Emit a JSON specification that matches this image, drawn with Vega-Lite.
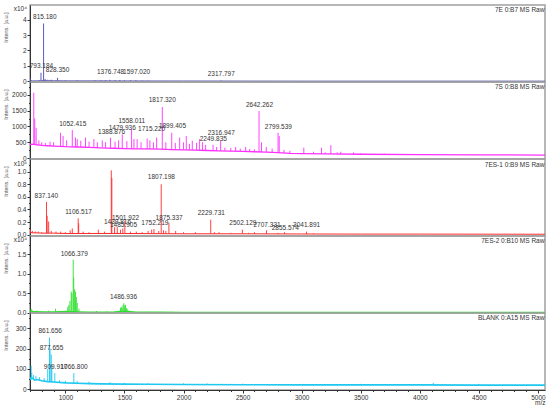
{
  "$schema": "https://vega.github.io/schema/vega-lite/v6.json",
  "padding": {"left": 2, "top": 4, "right": 0, "bottom": 0},
  "spacing": 0,
  "bounds": "flush",
  "config": {
    "font": "Liberation Sans",
    "view": {"stroke": "#a0a0a0", "strokeWidth": 1.5},
    "concat": {"spacing": 0},
    "axis": {
      "grid": false,
      "labelFontSize": 6.5,
      "labelColor": "#333",
      "labelPadding": 1,
      "domainColor": "#333",
      "tickColor": "#333",
      "titleFontSize": 5.5,
      "titleFontWeight": "normal",
      "titleColor": "#555"
    },
    "text": {"fontSize": 6.5, "color": "#333", "baseline": "middle"}
  },
  "datasets": {
    "base": [
      {"s": "A", "mz": 700, "i": 0.12}, {"s": "A", "mz": 705, "i": 0.05}, {"s": "A", "mz": 720, "i": 0.03}, {"s": "A", "mz": 760, "i": 0.03},
      {"s": "A", "mz": 790, "i": 0.05}, {"s": "A", "mz": 810, "i": 0.05}, {"s": "A", "mz": 850, "i": 0.04}, {"s": "A", "mz": 900, "i": 0.04},
      {"s": "A", "mz": 1000, "i": 0.03}, {"s": "A", "mz": 1200, "i": 0.03}, {"s": "A", "mz": 1500, "i": 0.025}, {"s": "A", "mz": 2000, "i": 0.02},
      {"s": "A", "mz": 2500, "i": 0.015}, {"s": "A", "mz": 3000, "i": 0.01}, {"s": "A", "mz": 4000, "i": 0.01}, {"s": "A", "mz": 5060, "i": 0.01},

      {"s": "B", "mz": 700, "i": 430}, {"s": "B", "mz": 720, "i": 440}, {"s": "B", "mz": 760, "i": 420}, {"s": "B", "mz": 800, "i": 400},
      {"s": "B", "mz": 850, "i": 390}, {"s": "B", "mz": 900, "i": 380}, {"s": "B", "mz": 1000, "i": 360}, {"s": "B", "mz": 1100, "i": 350},
      {"s": "B", "mz": 1200, "i": 340}, {"s": "B", "mz": 1300, "i": 320}, {"s": "B", "mz": 1400, "i": 310}, {"s": "B", "mz": 1500, "i": 300},
      {"s": "B", "mz": 1600, "i": 290}, {"s": "B", "mz": 1700, "i": 290}, {"s": "B", "mz": 1800, "i": 280}, {"s": "B", "mz": 1900, "i": 270},
      {"s": "B", "mz": 2000, "i": 260}, {"s": "B", "mz": 2100, "i": 250}, {"s": "B", "mz": 2200, "i": 240}, {"s": "B", "mz": 2300, "i": 230},
      {"s": "B", "mz": 2400, "i": 220}, {"s": "B", "mz": 2500, "i": 210}, {"s": "B", "mz": 2600, "i": 200}, {"s": "B", "mz": 2700, "i": 190},
      {"s": "B", "mz": 2800, "i": 170}, {"s": "B", "mz": 2900, "i": 150}, {"s": "B", "mz": 3000, "i": 140}, {"s": "B", "mz": 3200, "i": 130},
      {"s": "B", "mz": 3500, "i": 120}, {"s": "B", "mz": 4000, "i": 110}, {"s": "B", "mz": 4500, "i": 100}, {"s": "B", "mz": 5060, "i": 95},

      {"s": "C", "mz": 700, "i": 0.04}, {"s": "C", "mz": 720, "i": 0.03}, {"s": "C", "mz": 760, "i": 0.03}, {"s": "C", "mz": 800, "i": 0.025},
      {"s": "C", "mz": 900, "i": 0.025}, {"s": "C", "mz": 1000, "i": 0.02}, {"s": "C", "mz": 1200, "i": 0.02}, {"s": "C", "mz": 1500, "i": 0.02},
      {"s": "C", "mz": 2000, "i": 0.015}, {"s": "C", "mz": 2500, "i": 0.015}, {"s": "C", "mz": 3000, "i": 0.012}, {"s": "C", "mz": 3500, "i": 0.01},
      {"s": "C", "mz": 4000, "i": 0.01}, {"s": "C", "mz": 5060, "i": 0.008},

      {"s": "D", "mz": 700, "i": 0.04}, {"s": "D", "mz": 720, "i": 0.03}, {"s": "D", "mz": 800, "i": 0.02}, {"s": "D", "mz": 900, "i": 0.02},
      {"s": "D", "mz": 1000, "i": 0.03}, {"s": "D", "mz": 1120, "i": 0.02}, {"s": "D", "mz": 1200, "i": 0.015}, {"s": "D", "mz": 1400, "i": 0.015},
      {"s": "D", "mz": 1460, "i": 0.03}, {"s": "D", "mz": 1530, "i": 0.03}, {"s": "D", "mz": 1600, "i": 0.015}, {"s": "D", "mz": 1800, "i": 0.01},
      {"s": "D", "mz": 2000, "i": 0.008}, {"s": "D", "mz": 2500, "i": 0.005}, {"s": "D", "mz": 3000, "i": 0.005}, {"s": "D", "mz": 4000, "i": 0.005},
      {"s": "D", "mz": 5060, "i": 0.005},

      {"s": "E", "mz": 700, "i": 60}, {"s": "E", "mz": 705, "i": 50}, {"s": "E", "mz": 720, "i": 55}, {"s": "E", "mz": 740, "i": 45},
      {"s": "E", "mz": 760, "i": 48}, {"s": "E", "mz": 800, "i": 42}, {"s": "E", "mz": 850, "i": 38}, {"s": "E", "mz": 900, "i": 36},
      {"s": "E", "mz": 1000, "i": 32}, {"s": "E", "mz": 1100, "i": 30}, {"s": "E", "mz": 1200, "i": 28}, {"s": "E", "mz": 1300, "i": 27},
      {"s": "E", "mz": 1500, "i": 26}, {"s": "E", "mz": 1700, "i": 25}, {"s": "E", "mz": 2000, "i": 24}, {"s": "E", "mz": 2500, "i": 23},
      {"s": "E", "mz": 3000, "i": 22}, {"s": "E", "mz": 3500, "i": 22}, {"s": "E", "mz": 4000, "i": 22}, {"s": "E", "mz": 4500, "i": 21},
      {"s": "E", "mz": 5060, "i": 21}
    ],
    "peaks": [
      {"s": "A", "mz": 702, "i": 0.2, "b": 0.06}, {"s": "A", "mz": 793, "i": 0.55, "b": 0.05}, {"s": "A", "mz": 815, "i": 3.75, "b": 0.05},
      {"s": "A", "mz": 828, "i": 0.15, "b": 0.05}, {"s": "A", "mz": 850, "i": 0.1, "b": 0.04}, {"s": "A", "mz": 880, "i": 0.1, "b": 0.04},
      {"s": "A", "mz": 933, "i": 0.22, "b": 0.04}, {"s": "A", "mz": 1000, "i": 0.07, "b": 0.03}, {"s": "A", "mz": 1100, "i": 0.06, "b": 0.03},
      {"s": "A", "mz": 1250, "i": 0.07, "b": 0.03}, {"s": "A", "mz": 1300, "i": 0.07, "b": 0.03}, {"s": "A", "mz": 1340, "i": 0.08, "b": 0.03},
      {"s": "A", "mz": 1376, "i": 0.09, "b": 0.03}, {"s": "A", "mz": 1420, "i": 0.08, "b": 0.03}, {"s": "A", "mz": 1460, "i": 0.08, "b": 0.03},
      {"s": "A", "mz": 1500, "i": 0.07, "b": 0.025}, {"s": "A", "mz": 1550, "i": 0.07, "b": 0.025}, {"s": "A", "mz": 1597, "i": 0.07, "b": 0.025},
      {"s": "A", "mz": 1650, "i": 0.05, "b": 0.025}, {"s": "A", "mz": 1700, "i": 0.04, "b": 0.02}, {"s": "A", "mz": 2317, "i": 0.05, "b": 0.02},

      {"s": "B", "mz": 732, "i": 2070, "b": 430}, {"s": "B", "mz": 740, "i": 1250, "b": 430}, {"s": "B", "mz": 752, "i": 960, "b": 425},
      {"s": "B", "mz": 775, "i": 560, "b": 410}, {"s": "B", "mz": 800, "i": 500, "b": 400}, {"s": "B", "mz": 830, "i": 480, "b": 395},
      {"s": "B", "mz": 870, "i": 520, "b": 385}, {"s": "B", "mz": 900, "i": 500, "b": 380}, {"s": "B", "mz": 958, "i": 800, "b": 370},
      {"s": "B", "mz": 980, "i": 700, "b": 365}, {"s": "B", "mz": 1010, "i": 560, "b": 360}, {"s": "B", "mz": 1058, "i": 887, "b": 355},
      {"s": "B", "mz": 1085, "i": 650, "b": 350}, {"s": "B", "mz": 1100, "i": 600, "b": 350}, {"s": "B", "mz": 1130, "i": 550, "b": 345},
      {"s": "B", "mz": 1170, "i": 650, "b": 340}, {"s": "B", "mz": 1200, "i": 520, "b": 340}, {"s": "B", "mz": 1241, "i": 600, "b": 330},
      {"s": "B", "mz": 1270, "i": 500, "b": 325}, {"s": "B", "mz": 1312, "i": 560, "b": 320}, {"s": "B", "mz": 1340, "i": 500, "b": 315},
      {"s": "B", "mz": 1382, "i": 643, "b": 310}, {"s": "B", "mz": 1420, "i": 520, "b": 310}, {"s": "B", "mz": 1450, "i": 560, "b": 305},
      {"s": "B", "mz": 1481, "i": 750, "b": 300}, {"s": "B", "mz": 1520, "i": 540, "b": 300}, {"s": "B", "mz": 1560, "i": 910, "b": 295},
      {"s": "B", "mz": 1580, "i": 600, "b": 290}, {"s": "B", "mz": 1607, "i": 600, "b": 290}, {"s": "B", "mz": 1640, "i": 500, "b": 290},
      {"s": "B", "mz": 1692, "i": 620, "b": 290}, {"s": "B", "mz": 1715, "i": 560, "b": 285}, {"s": "B", "mz": 1745, "i": 500, "b": 285},
      {"s": "B", "mz": 1772, "i": 650, "b": 285}, {"s": "B", "mz": 1820, "i": 1617, "b": 280}, {"s": "B", "mz": 1850, "i": 500, "b": 275},
      {"s": "B", "mz": 1900, "i": 800, "b": 270}, {"s": "B", "mz": 1930, "i": 480, "b": 265}, {"s": "B", "mz": 1967, "i": 650, "b": 265},
      {"s": "B", "mz": 2000, "i": 500, "b": 260}, {"s": "B", "mz": 2023, "i": 700, "b": 258}, {"s": "B", "mz": 2050, "i": 450, "b": 255},
      {"s": "B", "mz": 2074, "i": 550, "b": 252}, {"s": "B", "mz": 2110, "i": 480, "b": 250}, {"s": "B", "mz": 2136, "i": 600, "b": 247},
      {"s": "B", "mz": 2160, "i": 500, "b": 245}, {"s": "B", "mz": 2187, "i": 420, "b": 242}, {"s": "B", "mz": 2250, "i": 420, "b": 235},
      {"s": "B", "mz": 2280, "i": 350, "b": 232}, {"s": "B", "mz": 2314, "i": 540, "b": 230}, {"s": "B", "mz": 2350, "i": 330, "b": 225},
      {"s": "B", "mz": 2400, "i": 320, "b": 220}, {"s": "B", "mz": 2441, "i": 350, "b": 216}, {"s": "B", "mz": 2480, "i": 300, "b": 212},
      {"s": "B", "mz": 2526, "i": 350, "b": 208}, {"s": "B", "mz": 2560, "i": 290, "b": 205}, {"s": "B", "mz": 2600, "i": 280, "b": 200},
      {"s": "B", "mz": 2639, "i": 1490, "b": 197}, {"s": "B", "mz": 2660, "i": 500, "b": 195}, {"s": "B", "mz": 2700, "i": 350, "b": 190},
      {"s": "B", "mz": 2750, "i": 300, "b": 180}, {"s": "B", "mz": 2800, "i": 800, "b": 170}, {"s": "B", "mz": 2810, "i": 700, "b": 168},
      {"s": "B", "mz": 2850, "i": 260, "b": 160}, {"s": "B", "mz": 2900, "i": 230, "b": 150}, {"s": "B", "mz": 3018, "i": 330, "b": 140},
      {"s": "B", "mz": 3100, "i": 200, "b": 135}, {"s": "B", "mz": 3168, "i": 330, "b": 132}, {"s": "B", "mz": 3200, "i": 180, "b": 130},
      {"s": "B", "mz": 3247, "i": 410, "b": 128}, {"s": "B", "mz": 3300, "i": 180, "b": 127}, {"s": "B", "mz": 3331, "i": 200, "b": 126},
      {"s": "B", "mz": 3439, "i": 180, "b": 122}, {"s": "B", "mz": 3500, "i": 150, "b": 120}, {"s": "B", "mz": 3700, "i": 140, "b": 116},
      {"s": "B", "mz": 4000, "i": 130, "b": 110},

      {"s": "C", "mz": 704, "i": 0.08, "b": 0.035}, {"s": "C", "mz": 720, "i": 0.06, "b": 0.03}, {"s": "C", "mz": 745, "i": 0.05, "b": 0.03},
      {"s": "C", "mz": 770, "i": 0.05, "b": 0.03}, {"s": "C", "mz": 800, "i": 0.04, "b": 0.025}, {"s": "C", "mz": 840, "i": 0.52, "b": 0.025},
      {"s": "C", "mz": 845, "i": 0.3, "b": 0.025}, {"s": "C", "mz": 858, "i": 0.21, "b": 0.025}, {"s": "C", "mz": 880, "i": 0.06, "b": 0.025},
      {"s": "C", "mz": 920, "i": 0.05, "b": 0.025}, {"s": "C", "mz": 960, "i": 0.05, "b": 0.022}, {"s": "C", "mz": 1000, "i": 0.04, "b": 0.02},
      {"s": "C", "mz": 1040, "i": 0.07, "b": 0.02}, {"s": "C", "mz": 1058, "i": 0.1, "b": 0.02}, {"s": "C", "mz": 1108, "i": 0.26, "b": 0.02},
      {"s": "C", "mz": 1112, "i": 0.18, "b": 0.02}, {"s": "C", "mz": 1150, "i": 0.05, "b": 0.02}, {"s": "C", "mz": 1200, "i": 0.04, "b": 0.02},
      {"s": "C", "mz": 1278, "i": 0.08, "b": 0.02}, {"s": "C", "mz": 1330, "i": 0.05, "b": 0.02}, {"s": "C", "mz": 1388, "i": 1.02, "b": 0.02},
      {"s": "C", "mz": 1393, "i": 0.9, "b": 0.02}, {"s": "C", "mz": 1416, "i": 0.12, "b": 0.02}, {"s": "C", "mz": 1439, "i": 0.12, "b": 0.02},
      {"s": "C", "mz": 1466, "i": 0.08, "b": 0.02}, {"s": "C", "mz": 1486, "i": 0.1, "b": 0.02}, {"s": "C", "mz": 1503, "i": 0.22, "b": 0.02},
      {"s": "C", "mz": 1550, "i": 0.05, "b": 0.02}, {"s": "C", "mz": 1600, "i": 0.05, "b": 0.02}, {"s": "C", "mz": 1650, "i": 0.04, "b": 0.018},
      {"s": "C", "mz": 1700, "i": 0.06, "b": 0.018}, {"s": "C", "mz": 1730, "i": 0.08, "b": 0.018}, {"s": "C", "mz": 1749, "i": 0.09, "b": 0.018},
      {"s": "C", "mz": 1790, "i": 0.06, "b": 0.017}, {"s": "C", "mz": 1811, "i": 0.8, "b": 0.017}, {"s": "C", "mz": 1830, "i": 0.07, "b": 0.017},
      {"s": "C", "mz": 1850, "i": 0.06, "b": 0.017}, {"s": "C", "mz": 1876, "i": 0.19, "b": 0.016}, {"s": "C", "mz": 1933, "i": 0.06, "b": 0.016},
      {"s": "C", "mz": 2000, "i": 0.04, "b": 0.015}, {"s": "C", "mz": 2100, "i": 0.04, "b": 0.015}, {"s": "C", "mz": 2230, "i": 0.24, "b": 0.015},
      {"s": "C", "mz": 2260, "i": 0.04, "b": 0.015}, {"s": "C", "mz": 2300, "i": 0.04, "b": 0.015}, {"s": "C", "mz": 2400, "i": 0.03, "b": 0.015},
      {"s": "C", "mz": 2498, "i": 0.08, "b": 0.015}, {"s": "C", "mz": 2550, "i": 0.03, "b": 0.014}, {"s": "C", "mz": 2600, "i": 0.04, "b": 0.014},
      {"s": "C", "mz": 2702, "i": 0.07, "b": 0.014}, {"s": "C", "mz": 2800, "i": 0.03, "b": 0.013}, {"s": "C", "mz": 2855, "i": 0.04, "b": 0.013},
      {"s": "C", "mz": 3041, "i": 0.05, "b": 0.012}, {"s": "C", "mz": 3100, "i": 0.02, "b": 0.012},

      {"s": "D", "mz": 710, "i": 0.1, "b": 0.035}, {"s": "D", "mz": 718, "i": 0.06, "b": 0.03}, {"s": "D", "mz": 760, "i": 0.05, "b": 0.025},
      {"s": "D", "mz": 800, "i": 0.04, "b": 0.02}, {"s": "D", "mz": 859, "i": 0.05, "b": 0.02}, {"s": "D", "mz": 916, "i": 0.1, "b": 0.02},
      {"s": "D", "mz": 1020, "i": 0.15, "b": 0.03}, {"s": "D", "mz": 1029, "i": 0.2, "b": 0.03}, {"s": "D", "mz": 1038, "i": 0.3, "b": 0.03},
      {"s": "D", "mz": 1049, "i": 0.54, "b": 0.03}, {"s": "D", "mz": 1055, "i": 0.5, "b": 0.03}, {"s": "D", "mz": 1066, "i": 1.36, "b": 0.03},
      {"s": "D", "mz": 1070, "i": 0.9, "b": 0.03}, {"s": "D", "mz": 1078, "i": 0.6, "b": 0.03}, {"s": "D", "mz": 1085, "i": 0.54, "b": 0.03},
      {"s": "D", "mz": 1092, "i": 0.4, "b": 0.025}, {"s": "D", "mz": 1100, "i": 0.25, "b": 0.025}, {"s": "D", "mz": 1114, "i": 0.1, "b": 0.02},
      {"s": "D", "mz": 1263, "i": 0.04, "b": 0.015}, {"s": "D", "mz": 1350, "i": 0.03, "b": 0.015}, {"s": "D", "mz": 1466, "i": 0.12, "b": 0.03},
      {"s": "D", "mz": 1472, "i": 0.15, "b": 0.03}, {"s": "D", "mz": 1480, "i": 0.13, "b": 0.03}, {"s": "D", "mz": 1488, "i": 0.2, "b": 0.03},
      {"s": "D", "mz": 1495, "i": 0.24, "b": 0.03}, {"s": "D", "mz": 1502, "i": 0.18, "b": 0.03}, {"s": "D", "mz": 1508, "i": 0.2, "b": 0.03},
      {"s": "D", "mz": 1515, "i": 0.12, "b": 0.03}, {"s": "D", "mz": 1522, "i": 0.1, "b": 0.03}, {"s": "D", "mz": 1540, "i": 0.05, "b": 0.025},
      {"s": "D", "mz": 1700, "i": 0.02, "b": 0.012}, {"s": "D", "mz": 1900, "i": 0.02, "b": 0.01},

      {"s": "E", "mz": 710, "i": 116, "b": 52}, {"s": "E", "mz": 715, "i": 80, "b": 52}, {"s": "E", "mz": 730, "i": 70, "b": 50},
      {"s": "E", "mz": 750, "i": 65, "b": 46}, {"s": "E", "mz": 780, "i": 60, "b": 44}, {"s": "E", "mz": 820, "i": 55, "b": 40},
      {"s": "E", "mz": 850, "i": 100, "b": 38}, {"s": "E", "mz": 865, "i": 254, "b": 38}, {"s": "E", "mz": 870, "i": 200, "b": 38},
      {"s": "E", "mz": 880, "i": 171, "b": 37}, {"s": "E", "mz": 885, "i": 120, "b": 37}, {"s": "E", "mz": 910, "i": 80, "b": 36},
      {"s": "E", "mz": 950, "i": 45, "b": 34}, {"s": "E", "mz": 1000, "i": 42, "b": 32}, {"s": "E", "mz": 1071, "i": 80, "b": 31},
      {"s": "E", "mz": 1100, "i": 40, "b": 30}, {"s": "E", "mz": 1200, "i": 38, "b": 28}, {"s": "E", "mz": 1377, "i": 35, "b": 27},
      {"s": "E", "mz": 1500, "i": 32, "b": 26}, {"s": "E", "mz": 1700, "i": 30, "b": 25}, {"s": "E", "mz": 2000, "i": 30, "b": 24},
      {"s": "E", "mz": 2200, "i": 29, "b": 24}, {"s": "E", "mz": 2500, "i": 28, "b": 23}, {"s": "E", "mz": 3000, "i": 27, "b": 22},
      {"s": "E", "mz": 3500, "i": 27, "b": 22}, {"s": "E", "mz": 4114, "i": 32, "b": 22}, {"s": "E", "mz": 4500, "i": 27, "b": 21}
    ],
    "labels": [
      {"s": "A", "mz": 825, "i": 4.2, "t": "815.180"}, {"s": "A", "mz": 797, "i": 0.96, "t": "793.184"},
      {"s": "A", "mz": 933, "i": 0.7, "t": "828.350"}, {"s": "A", "mz": 1382, "i": 0.59, "t": "1376.748"},
      {"s": "A", "mz": 1603, "i": 0.59, "t": "1597.020"}, {"s": "A", "mz": 2319, "i": 0.5, "t": "2317.797"},

      {"s": "B", "mz": 1062, "i": 1087, "t": "1052.415"}, {"s": "B", "mz": 1391, "i": 824, "t": "1388.876"},
      {"s": "B", "mz": 1481, "i": 941, "t": "1479.936"}, {"s": "B", "mz": 1562, "i": 1163, "t": "1558.011"},
      {"s": "B", "mz": 1730, "i": 910, "t": "1715.220"}, {"s": "B", "mz": 1820, "i": 1839, "t": "1817.320"},
      {"s": "B", "mz": 1906, "i": 1014, "t": "1899.405"}, {"s": "B", "mz": 2319, "i": 783, "t": "2316.947"},
      {"s": "B", "mz": 2252, "i": 593, "t": "2249.835"}, {"s": "B", "mz": 2643, "i": 1680, "t": "2642.262"},
      {"s": "B", "mz": 2803, "i": 983, "t": "2799.539"},

      {"s": "C", "mz": 838, "i": 0.61, "t": "837.140"}, {"s": "C", "mz": 1111, "i": 0.36, "t": "1106.517"},
      {"s": "C", "mz": 1441, "i": 0.2, "t": "1439.816"}, {"s": "C", "mz": 1509, "i": 0.27, "t": "1501.922"},
      {"s": "C", "mz": 1492, "i": 0.16, "t": "1485.905"}, {"s": "C", "mz": 1757, "i": 0.19, "t": "1752.219"},
      {"s": "C", "mz": 1812, "i": 0.91, "t": "1807.198"}, {"s": "C", "mz": 1878, "i": 0.27, "t": "1875.337"},
      {"s": "C", "mz": 2235, "i": 0.35, "t": "2229.731"}, {"s": "C", "mz": 2502, "i": 0.18, "t": "2502.129"},
      {"s": "C", "mz": 2707, "i": 0.16, "t": "2707.331"}, {"s": "C", "mz": 2861, "i": 0.11, "t": "2855.574"},
      {"s": "C", "mz": 3042, "i": 0.15, "t": "3041.891"},

      {"s": "D", "mz": 1075, "i": 1.51, "t": "1066.379"}, {"s": "D", "mz": 1492, "i": 0.41, "t": "1486.936"},

      {"s": "E", "mz": 871, "i": 286, "t": "861.656"}, {"s": "E", "mz": 882, "i": 205, "t": "877.655"},
      {"s": "E", "mz": 916, "i": 111, "t": "909.917"}, {"s": "E", "mz": 1073, "i": 111, "t": "1066.800"}
    ],
    "titles": [
      {"s": "A", "mz": 5055, "i": 4.6, "t": "7E 0:B7 MS Raw"},
      {"s": "B", "mz": 5055, "i": 2252, "t": "7S 0:B8 MS Raw"},
      {"s": "C", "mz": 5055, "i": 1.105, "t": "7ES-1 0:B9 MS Raw"},
      {"s": "D", "mz": 5055, "i": 1.837, "t": "7ES-2 0:B10 MS Raw"},
      {"s": "E", "mz": 5055, "i": 350, "t": "BLANK 0:A15 MS Raw"}
    ],
    "expo": [
      {"s": "A", "mz": 700, "i": 4.69, "t": "x10⁴"},
      {"s": "C", "mz": 700, "i": 1.125, "t": "x10⁵"},
      {"s": "D", "mz": 700, "i": 1.855, "t": "x10⁴"}
    ]
  },
  "vconcat": [
    {
      "width": 515, "height": 77,
      "encoding": {
        "x": {"field": "mz", "type": "quantitative", "scale": {"domain": [700, 5060], "nice": false, "zero": false}, "axis": null},
        "y": {"field": "i", "type": "quantitative", "scale": {"domain": [-0.05, 4.95], "nice": false, "zero": false},
          "axis": {"title": "Intens. [a.u.]", "titleX": -22, "titleY": 22, "values": [0, 0.5, 1, 1.5, 2, 2.5, 3, 3.5, 4, 4.5],
            "labelExpr": "datum.value % 1 === 0 ? datum.label : ''", "format": "d",
            "tickSize": {"condition": {"test": "datum.value % 1 === 0", "value": 3}, "value": 1.5}}}
      },
      "layer": [
        {"data": {"name": "base"}, "transform": [{"filter": "datum.s == 'A'"}], "mark": {"type": "line", "color": "#4b4baf", "strokeWidth": 0.8, "clip": true}},
        {"data": {"name": "peaks"}, "transform": [{"filter": "datum.s == 'A'"}], "mark": {"type": "rule", "color": "#4b4baf", "strokeWidth": 0.9, "clip": true}, "encoding": {"y2": {"field": "b"}}},
        {"data": {"name": "labels"}, "transform": [{"filter": "datum.s == 'A'"}], "mark": {"type": "text"}, "encoding": {"text": {"field": "t"}}},
        {"data": {"name": "titles"}, "transform": [{"filter": "datum.s == 'A'"}], "mark": {"type": "text", "align": "right"}, "encoding": {"text": {"field": "t"}}},
        {"data": {"name": "expo"}, "transform": [{"filter": "datum.s == 'A'"}], "mark": {"type": "text", "align": "right", "dx": -3}, "encoding": {"text": {"field": "t"}}}
      ]
    },
    {
      "width": 515, "height": 77,
      "encoding": {
        "x": {"field": "mz", "type": "quantitative", "scale": {"domain": [700, 5060], "nice": false, "zero": false}, "axis": null},
        "y": {"field": "i", "type": "quantitative", "scale": {"domain": [-30, 2410], "nice": false, "zero": false},
          "axis": {"title": "Intens. [a.u.]", "titleX": -22, "titleY": 22, "values": [0, 250, 500, 750, 1000, 1250, 1500, 1750, 2000, 2250],
            "labelExpr": "datum.value % 500 === 0 ? datum.label : ''", "format": "d",
            "tickSize": {"condition": {"test": "datum.value % 500 === 0", "value": 3}, "value": 1.5}}}
      },
      "layer": [
        {"data": {"name": "base"}, "transform": [{"filter": "datum.s == 'B'"}], "mark": {"type": "line", "color": "#ff30ff", "strokeWidth": 1.3, "clip": true}},
        {"data": {"name": "peaks"}, "transform": [{"filter": "datum.s == 'B'"}], "mark": {"type": "rule", "color": "#ff30ff", "strokeWidth": 0.9, "clip": true}, "encoding": {"y2": {"field": "b"}}},
        {"data": {"name": "labels"}, "transform": [{"filter": "datum.s == 'B'"}], "mark": {"type": "text"}, "encoding": {"text": {"field": "t"}}},
        {"data": {"name": "titles"}, "transform": [{"filter": "datum.s == 'B'"}], "mark": {"type": "text", "align": "right"}, "encoding": {"text": {"field": "t"}}}
      ]
    },
    {
      "width": 515, "height": 77,
      "encoding": {
        "x": {"field": "mz", "type": "quantitative", "scale": {"domain": [700, 5060], "nice": false, "zero": false}, "axis": null},
        "y": {"field": "i", "type": "quantitative", "scale": {"domain": [-0.02, 1.2], "nice": false, "zero": false},
          "axis": {"title": "Intens. [a.u.]", "titleX": -22, "titleY": 22, "values": [0, 0.1, 0.2, 0.3, 0.4, 0.5, 0.6, 0.7, 0.8, 0.9, 1.0, 1.1],
            "labelExpr": "round(datum.value * 10) % 2 === 0 ? datum.label : ''", "format": ".1f",
            "tickSize": {"condition": {"test": "round(datum.value * 10) % 2 === 0", "value": 3}, "value": 1.5}}}
      },
      "layer": [
        {"data": {"name": "base"}, "transform": [{"filter": "datum.s == 'C'"}], "mark": {"type": "line", "color": "#ff2a2a", "strokeWidth": 1, "clip": true}},
        {"data": {"name": "peaks"}, "transform": [{"filter": "datum.s == 'C'"}], "mark": {"type": "rule", "color": "#ff2a2a", "strokeWidth": 0.9, "clip": true}, "encoding": {"y2": {"field": "b"}}},
        {"data": {"name": "labels"}, "transform": [{"filter": "datum.s == 'C'"}], "mark": {"type": "text"}, "encoding": {"text": {"field": "t"}}},
        {"data": {"name": "titles"}, "transform": [{"filter": "datum.s == 'C'"}], "mark": {"type": "text", "align": "right"}, "encoding": {"text": {"field": "t"}}},
        {"data": {"name": "expo"}, "transform": [{"filter": "datum.s == 'C'"}], "mark": {"type": "text", "align": "right", "dx": -3}, "encoding": {"text": {"field": "t"}}}
      ]
    },
    {
      "width": 515, "height": 77,
      "encoding": {
        "x": {"field": "mz", "type": "quantitative", "scale": {"domain": [700, 5060], "nice": false, "zero": false}, "axis": null},
        "y": {"field": "i", "type": "quantitative", "scale": {"domain": [-0.01, 1.97], "nice": false, "zero": false},
          "axis": {"title": "Intens. [a.u.]", "titleX": -22, "titleY": 22, "values": [0, 0.25, 0.5, 0.75, 1.0, 1.25, 1.5, 1.75],
            "labelExpr": "datum.value % 0.5 === 0 ? datum.label : ''", "format": ".1f",
            "tickSize": {"condition": {"test": "datum.value % 0.5 === 0", "value": 3}, "value": 1.5}}}
      },
      "layer": [
        {"data": {"name": "base"}, "transform": [{"filter": "datum.s == 'D'"}], "mark": {"type": "line", "color": "#2ee02e", "strokeWidth": 1.2, "clip": true}},
        {"data": {"name": "peaks"}, "transform": [{"filter": "datum.s == 'D'"}], "mark": {"type": "rule", "color": "#2ee02e", "strokeWidth": 0.9, "clip": true}, "encoding": {"y2": {"field": "b"}}},
        {"data": {"name": "labels"}, "transform": [{"filter": "datum.s == 'D'"}], "mark": {"type": "text"}, "encoding": {"text": {"field": "t"}}},
        {"data": {"name": "titles"}, "transform": [{"filter": "datum.s == 'D'"}], "mark": {"type": "text", "align": "right"}, "encoding": {"text": {"field": "t"}}},
        {"data": {"name": "expo"}, "transform": [{"filter": "datum.s == 'D'"}], "mark": {"type": "text", "align": "right", "dx": -3}, "encoding": {"text": {"field": "t"}}}
      ]
    },
    {
      "width": 515, "height": 77,
      "encoding": {
        "x": {"field": "mz", "type": "quantitative", "scale": {"domain": [700, 5060], "nice": false, "zero": false},
          "axis": {"title": "m/z", "titleFontSize": 6.5, "titleColor": "#333", "titleX": 515, "titleY": 9, "titleAlign": "right",
            "values": [700, 800, 900, 1000, 1100, 1200, 1300, 1400, 1500, 1600, 1700, 1800, 1900, 2000, 2100, 2200, 2300, 2400, 2500, 2600, 2700, 2800, 2900, 3000, 3100, 3200, 3300, 3400, 3500, 3600, 3700, 3800, 3900, 4000, 4100, 4200, 4300, 4400, 4500, 4600, 4700, 4800, 4900, 5000],
            "labelExpr": "datum.value % 500 === 0 ? datum.label : ''", "format": "d",
            "tickSize": {"condition": {"test": "datum.value % 500 === 0", "value": 3}, "value": 1.5}}},
        "y": {"field": "i", "type": "quantitative", "scale": {"domain": [-3, 374], "nice": false, "zero": false},
          "axis": {"title": "Intens. [a.u.]", "titleX": -22, "titleY": 22, "values": [0, 50, 100, 150, 200, 250, 300, 350],
            "labelExpr": "datum.value % 100 === 0 ? datum.label : ''", "format": "d",
            "tickSize": {"condition": {"test": "datum.value % 100 === 0", "value": 3}, "value": 1.5}}}
      },
      "layer": [
        {"data": {"name": "base"}, "transform": [{"filter": "datum.s == 'E'"}], "mark": {"type": "line", "color": "#1ec8f0", "strokeWidth": 1.6, "clip": true}},
        {"data": {"name": "peaks"}, "transform": [{"filter": "datum.s == 'E'"}], "mark": {"type": "rule", "color": "#1ec8f0", "strokeWidth": 0.9, "clip": true}, "encoding": {"y2": {"field": "b"}}},
        {"data": {"name": "labels"}, "transform": [{"filter": "datum.s == 'E'"}], "mark": {"type": "text"}, "encoding": {"text": {"field": "t"}}},
        {"data": {"name": "titles"}, "transform": [{"filter": "datum.s == 'E'"}], "mark": {"type": "text", "align": "right"}, "encoding": {"text": {"field": "t"}}}
      ]
    }
  ]
}
